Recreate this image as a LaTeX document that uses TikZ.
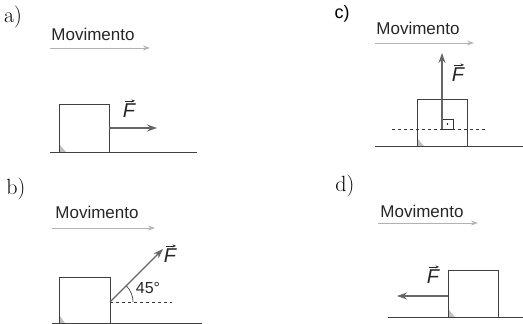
\documentclass[tikz,border=0pt]{standalone}
\usepackage{fontspec}
\setsansfont{Liberation Sans}
\usetikzlibrary{arrows.meta}
\begin{document}
\begin{tikzpicture}[x=1pt,y=-1pt,
  lbl/.style={font=\fontsize{22}{24}\selectfont, inner sep=0},
  mov/.style={font=\sffamily\fontsize{17}{19}\selectfont, text=black!85, inner sep=0},
  movarrow/.style={draw=black!30, line width=0.8pt, -{Stealth[length=7pt,width=5pt,open]}},
  blk/.style={draw=black!75, line width=0.7pt},
  ground/.style={draw=black!75, line width=0.7pt},
  force/.style={draw=black!60, line width=1.3pt, -{Stealth[length=10pt,width=7pt]}},
  flbl/.style={font=\sffamily\itshape\fontsize{20}{22}\selectfont, text=black!85, inner sep=0},
  vecarrow/.style={draw=black!85, line width=0.8pt, -{Stealth[length=3.5pt,width=3pt]}},
  dashline/.style={draw=black!80, line width=0.7pt, dashed}
]
\useasboundingbox (0,0) rectangle (523,324);
% ---------- a
\node[lbl] (la) at (13,17) {a)};
\node[mov] (ma) at (93,34) {Movimento};
\coordinate (ma1) at (50,48); \coordinate (ma2) at (150,48);
\draw[movarrow] (ma1) -- (ma2);
\coordinate (ga1) at (50,152); \coordinate (ga2) at (197,152);
\fill[black!25] (60,152) -- (60,145) -- (66,152) -- cycle;
\draw[blk] (59,152) rectangle (109,104);
\draw[ground] (ga1) -- (ga2);
\coordinate (fa1) at (109,128); \coordinate (fa2) at (157,128);
\draw[force] (fa1) -- (fa2);
\node[flbl] (Fa) at (129,111) {F};
\draw[vecarrow] ([xshift=-4pt,yshift=3pt]Fa.north) -- ([xshift=6pt,yshift=3pt]Fa.north);
% ---------- c
\node[lbl,font=\sffamily\fontsize{18}{20}\selectfont] (lc) at (342,14) {c)};
\node[mov] (mc) at (418,28) {Movimento};
\coordinate (mc1) at (375,43); \coordinate (mc2) at (474,43);
\draw[movarrow] (mc1) -- (mc2);
\fill[black!25] (418,146) -- (418,139) -- (424,146) -- cycle;
\draw[blk] (417,146) rectangle (467,99);
\coordinate (gc1) at (375,146); \coordinate (gc2) at (523,146);
\draw[ground] (gc1) -- (gc2);
\coordinate (dc1) at (392,129); \coordinate (dc2) at (485,129);
\draw[dashline] (dc1) -- (dc2);
\draw[black!80, line width=0.7pt] (442,119) rectangle (453,129);
\fill[black] (447.5,124) circle (0.8);
\coordinate (fc1) at (442,129); \coordinate (fc2) at (442,53);
\draw[force] (fc1) -- (fc2);
\node[flbl] (Fc) at (458,75) {F};
\draw[vecarrow] ([xshift=-4pt,yshift=3pt]Fc.north) -- ([xshift=6pt,yshift=3pt]Fc.north);
% ---------- b
\node[lbl] (lb) at (16,189) {b)};
\node[mov] (mb) at (97,212) {Movimento};
\coordinate (mb1) at (52,228); \coordinate (mb2) at (155,228);
\draw[movarrow] (mb1) -- (mb2);
\fill[black!25] (60,326) -- (60,316) -- (67,326) -- cycle;
\draw[blk] (59,326) -- (59,277) -- (110,277) -- (110,326);
\coordinate (gb1) at (52,323); \coordinate (gb2) at (202,323);
\draw[ground] (gb1) -- (gb2);
\coordinate (db1) at (110,302); \coordinate (db2) at (172,302);
\draw[dashline] (db1) -- (db2);
\draw[black!75, line width=0.7pt] (133,302) arc[start angle=0, end angle=-45, radius=23];
\coordinate (fb1) at (110,302); \coordinate (fb2) at (163,249);
\draw[force] (fb1) -- (fb2);
\node[flbl] (Fb) at (170,256) {F};
\draw[vecarrow] ([xshift=-4pt,yshift=3pt]Fb.north) -- ([xshift=6pt,yshift=3pt]Fb.north);
\node[mov,font=\sffamily\fontsize{16}{18}\selectfont] (ang) at (148,288) {45°};
% ---------- d
\node[lbl] (ld) at (345,186) {d)};
\node[mov] (md) at (422,211) {Movimento};
\coordinate (md1) at (378,223); \coordinate (md2) at (478,223);
\draw[movarrow] (md1) -- (md2);
\fill[black!25] (449,317) -- (449,310) -- (455,317) -- cycle;
\draw[blk] (448,317) rectangle (498,270);
\coordinate (gd1) at (388,317); \coordinate (gd2) at (523,317);
\draw[ground] (gd1) -- (gd2);
\coordinate (fd1) at (448,296); \coordinate (fd2) at (397,296);
\draw[force] (fd1) -- (fd2);
\node[flbl] (Fd) at (433,277) {F};
\draw[vecarrow] ([xshift=-4pt,yshift=3pt]Fd.north) -- ([xshift=6pt,yshift=3pt]Fd.north);
\end{tikzpicture}
\end{document}
